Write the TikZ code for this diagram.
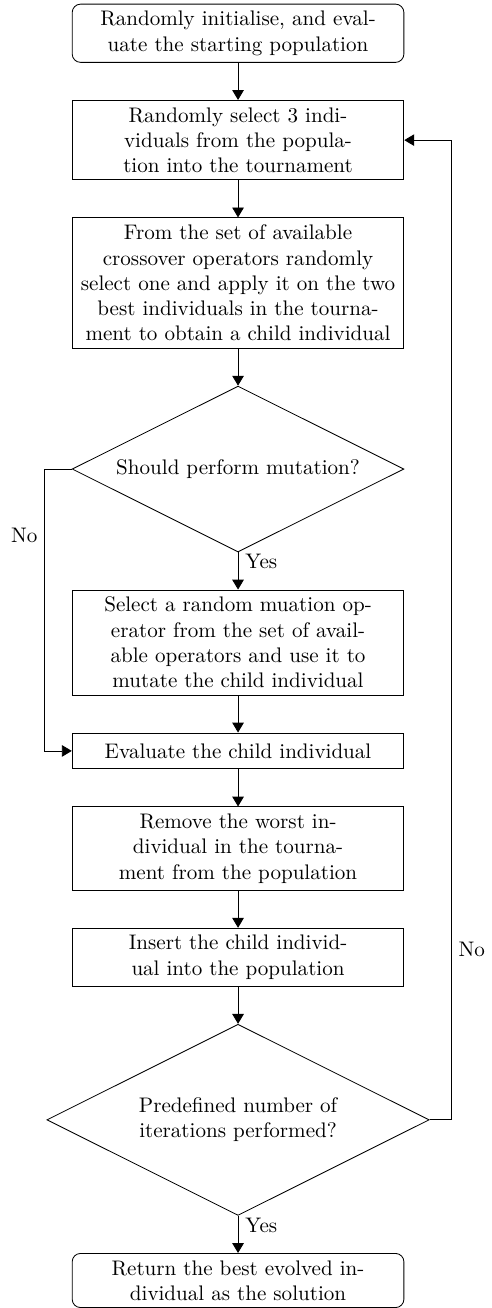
\documentclass[tikz,border=0pt]{standalone}
\usepackage{tikz}
\usetikzlibrary{positioning,shapes.geometric,arrows.meta}

\begin{document}
\begin{tikzpicture}[node distance=0.62cm,
	block/.style={draw, rectangle, text width=5.3cm, align=center, minimum height=0.6cm},
	term/.style={block, rounded corners},
	decide/.style={draw, diamond, aspect=2, text width=4.2cm, align=center},
	flow/.style={-{Triangle[length=4.7pt,width=5.5pt]}}]
	%\draw[step=1cm,gray,very thin] (-4,-22) grid (4,1);
	\node[term] (start) {Randomly initialise, and eval-\\uate the starting population};
	\node[block, below=of start] (select) {Randomly select 3 indi-\\viduals from the popula-\\tion into the tournament};
	\node[block, below=of select] (cross) {From the set of available\\crossover operators randomly\\select one and apply it on the two\\best individuals in the tourna-\\ment to obtain a child individual};
	\node[decide, below=of cross] (mutq) {Should perform mutation?};
	\node[block, below=of mutq] (mutate) {Select a random muation op-\\erator from the set of avail-\\able operators and use it to\\mutate the child individual};
	\node[block, below=of mutate] (evaluate) {Evaluate the child individual};
	\node[block, below=of evaluate] (remove) {Remove the worst in-\\dividual in the tourna-\\ment from the population};
	\node[block, below=of remove] (insert) {Insert the child individ-\\ual into the population};
	\node[decide, below=of insert] (iterq) {Predefined number of\\iterations performed?};
	\node[term, below=of iterq] (stop) {Return the best evolved in-\\dividual as the solution};

	\draw[flow] (start) -- (select);
	\draw[flow] (select) -- (cross);
	\draw[flow] (cross) -- (mutq);
	\draw[flow] (mutq) -- node[near start, right] {Yes} (mutate);
	\draw[flow] (mutate) -- (evaluate);
	\draw[flow] (evaluate) -- (remove);
	\draw[flow] (remove) -- (insert);
	\draw[flow] (insert) -- (iterq);
	\draw[flow] (iterq) -- node[near start, right] {Yes} (stop);
	% the two loops
	\draw[flow] (mutq.west) -- ++(-0.45,0) |- node[pos=0.117, left] {No} (evaluate.west);
	\draw[flow] (iterq.east) -- ++(0.36,0) |- node[pos=0.087, right] {No} (select.east);

	\path[use as bounding box] ([xshift=-113pt,yshift=1.75pt]start.north) rectangle ++(230.3pt,-619.9pt);
\end{tikzpicture}
\end{document}
